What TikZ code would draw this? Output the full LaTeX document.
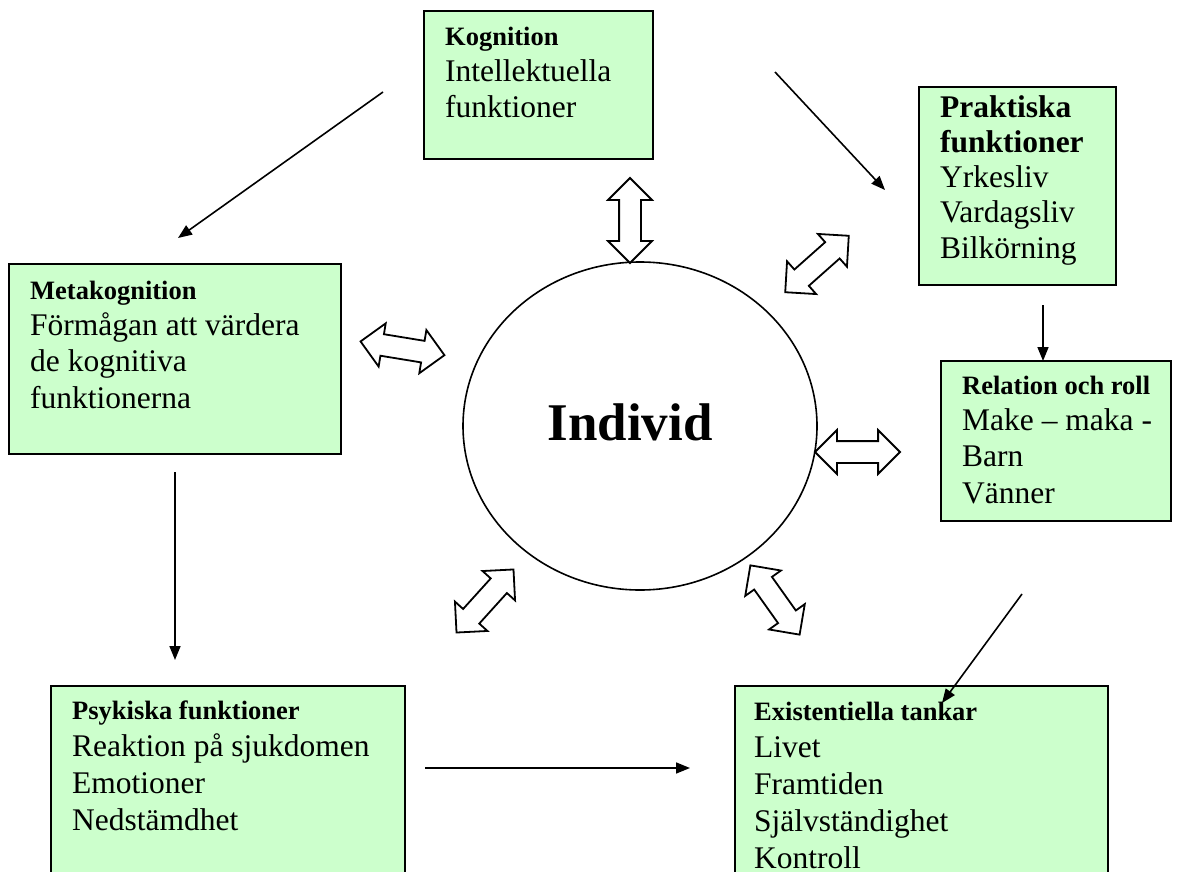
\documentclass[tikz,border=0pt]{standalone}
\usepackage{fontspec}
\setmainfont{Liberation Serif}
\usetikzlibrary{arrows.meta}
\usetikzlibrary{shapes}
\definecolor{boxgreen}{HTML}{CCFFCC}

\tikzset{
  box/.style={draw, line width=1.8pt, fill=boxgreen, anchor=north west, inner sep=0pt},
  % anchored at the baseline of the last line
  txt/.style={anchor=base west, align=left, inner sep=0pt, font=\fontsize{31.5}{36.3}\selectfont},
  arr/.style={line width=1.6pt, -{Triangle[length=14pt,width=11pt]}},
  dbl/.style={double arrow, draw, line width=1.8pt, fill=white, inner xsep=0pt,
    inner ysep=10pt, double arrow head extend=11pt, minimum height=85pt},
}
\newcommand{\boxtitle}[1]{{\fontsize{26.5}{36.3}\selectfont\bfseries #1}}

\begin{document}
\begin{tikzpicture}[x=1pt, y=-1pt]
  \useasboundingbox (0,0) rectangle (1197,872);
  \clip (0,0) rectangle (1197,872);

  % boxes
  \node [box, minimum width=229pt, minimum height=148pt] (kog) at (423,10) {};
  \node [box, minimum width=197pt, minimum height=198pt] (prak) at (918,86) {};
  \node [box, minimum width=332pt, minimum height=190pt] (meta) at (8,263) {};
  \node [box, minimum width=230pt, minimum height=160pt] (rel) at (940,360) {};
  \node [box, minimum width=354pt, minimum height=215pt] (psyk) at (50,685) {};
  \node [box, minimum width=373pt, minimum height=215pt] (exist) at (734,685) {};

  \node [txt] (kog-t) at (445,118) {\boxtitle{Kognition}\\Intellektuella\\funktioner};
  \node [txt, font=\fontsize{31.5}{35.2}\selectfont] (prak-t) at (940,258)
  {\textbf{Praktiska}\\\textbf{funktioner}\\Yrkesliv\\Vardagsliv\\Bilkörning};
  \node [txt] (meta-t) at (30,408)
  {\boxtitle{Metakognition}\\Förmågan att värdera\\de kognitiva\\funktionerna};
  \node [txt] (rel-t) at (962,503) {\boxtitle{Relation och roll}\\Make – maka -\\Barn\\Vänner};
  \node [txt, font=\fontsize{31.5}{36.7}\selectfont] (psyk-t) at (72,830)
  {\boxtitle{Psykiska funktioner}\\Reaktion på sjukdomen\\Emotioner\\Nedstämdhet};
  \node [txt, font=\fontsize{31.5}{37}\selectfont] (exist-t) at (754,868)
  {\boxtitle{Existentiella tankar}\\Livet\\Framtiden\\Självständighet\\Kontroll};

  % individ
  \node [draw, ellipse, line width=1.6pt, inner sep=0pt, minimum width=354pt,
  minimum height=328pt] (ind) at (640,426) {};
  \node [font=\fontsize{53}{60}\selectfont\bfseries] (ind-t) at (630,422) {Individ};

  \foreach \pos/\ang/\nm in {(630,220.5)/90/kog, (817,264)/41.6/prak,
    (402.5,348.3)/-9.3/meta, (857.5,452)/0/rel, (485,601)/47.9/psyk,
    (775,600)/-54.6/exist}
  \node [dbl, rotate=\ang] (d-\nm) at \pos {};

  % arrows between the boxes
  \coordinate (km-s) at (383,92);   \coordinate (km-e) at (178,238);
  \coordinate (kp-s) at (775,72);   \coordinate (kp-e) at (885,190);
  \coordinate (pr-s) at (1043,305); \coordinate (pr-e) at (1043,361);
  \coordinate (mp-s) at (175,472);  \coordinate (mp-e) at (175,660);
  \coordinate (re-s) at (1022,594); \coordinate (re-e) at (942,703);
  \coordinate (pe-s) at (425,768);  \coordinate (pe-e) at (690,768);
  \draw [arr] (km-s) -- (km-e);
  \draw [arr] (kp-s) -- (kp-e);
  \draw [arr] (pr-s) -- (pr-e);
  \draw [arr] (mp-s) -- (mp-e);
  \draw [arr] (re-s) -- (re-e);
  \draw [arr] (pe-s) -- (pe-e);
\end{tikzpicture}
\end{document}
